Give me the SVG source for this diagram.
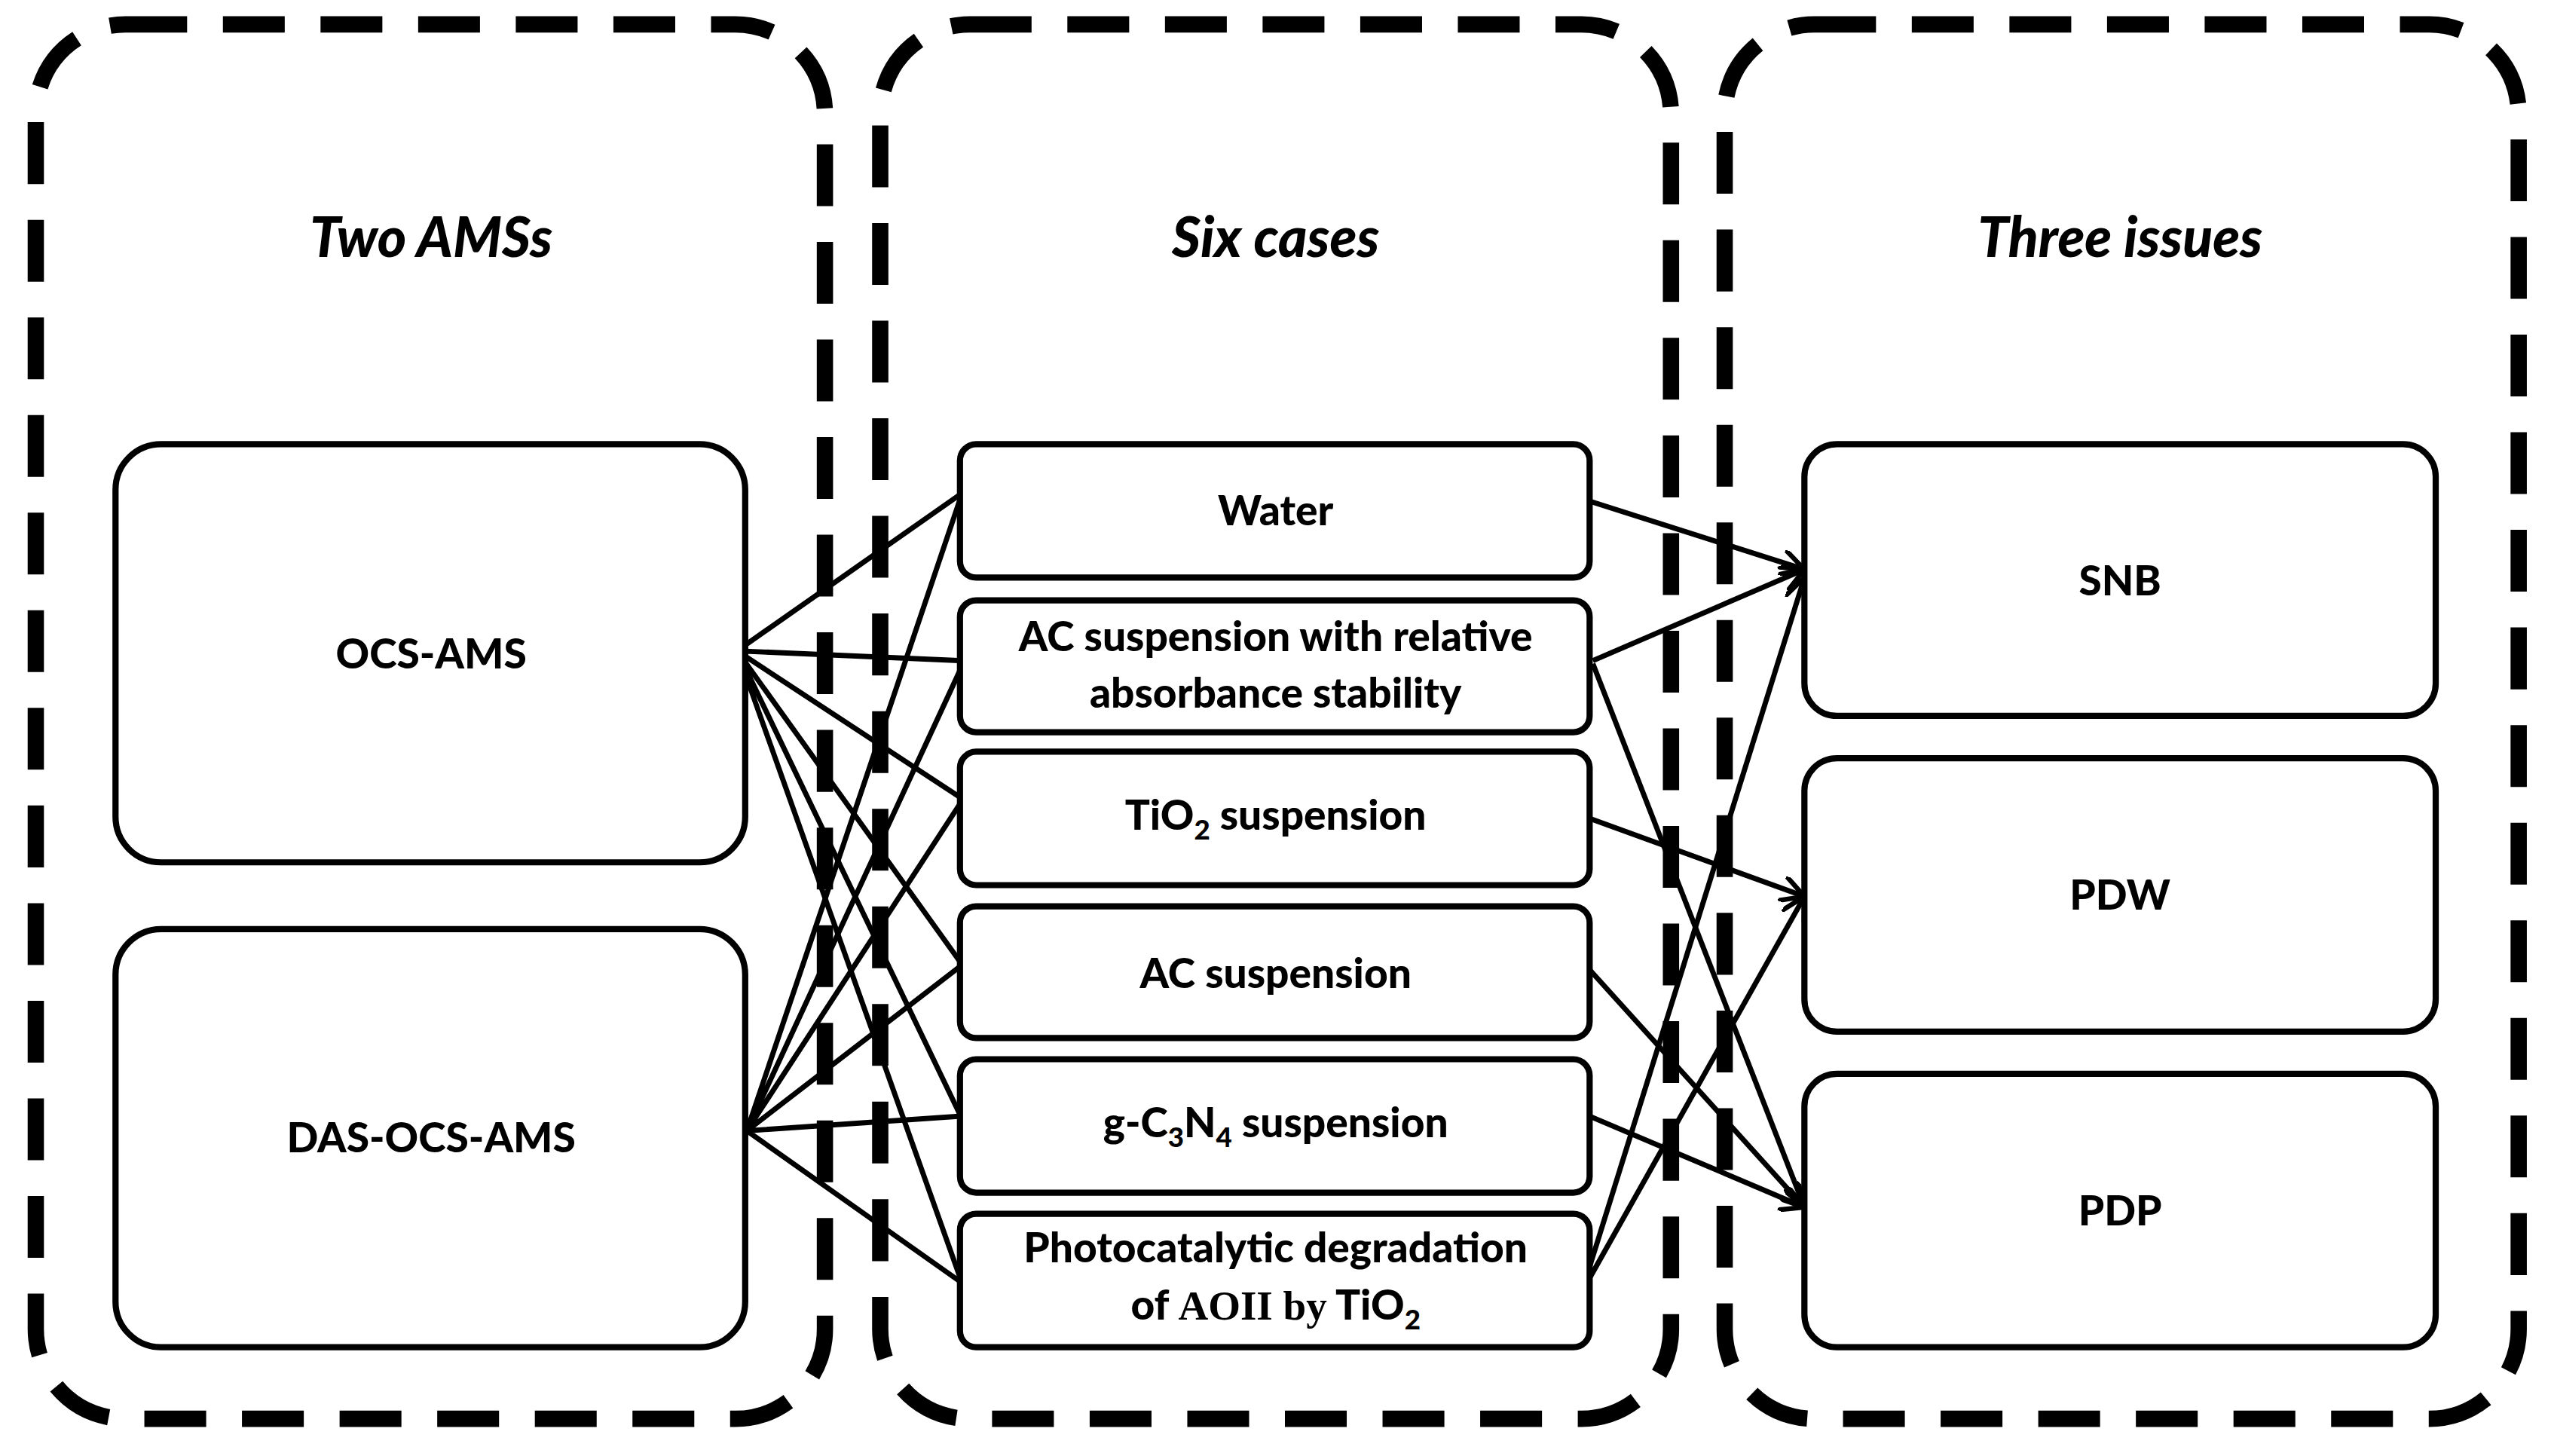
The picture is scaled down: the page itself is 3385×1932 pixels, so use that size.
<svg xmlns="http://www.w3.org/2000/svg" width="3385" height="1932" viewBox="0 0 3385 1932">
<style>
.c{fill:none;stroke:#000;stroke-width:10;stroke-dasharray:38 22}
.b{fill:#fff;stroke:#000;stroke-width:3.8}
.t{font-family:Lato,"Open Sans",sans-serif;font-weight:900;font-size:25.5px;text-anchor:middle}
.h{font-family:Lato,"Open Sans",sans-serif;font-weight:900;font-style:italic;font-size:34px;text-anchor:middle}
.l{stroke:#000;stroke-width:3.2;fill:none}
.a{stroke:#000;stroke-width:3.2;fill:none;marker-end:url(#m)}
</style>
<defs><marker id="m" viewBox="0 0 12 12" refX="11" refY="6" markerWidth="16" markerHeight="16" orient="auto" markerUnits="userSpaceOnUse"><path d="M0,0 L11,6 L0,12" fill="none" stroke="#000" stroke-width="2.2"/></marker></defs>
<rect width="3385" height="1932" fill="#fff"/>
<g transform="scale(2.159)">
<g id="containers">
<rect class="c" x="22" y="15" width="485" height="857" rx="55"/>
<rect class="c" x="541" y="15" width="486" height="857" rx="55"/>
<rect class="c" x="1060" y="15" width="488" height="857" rx="55"/>
<text class="h" x="265" y="158">Two AMSs</text>
<text class="h" x="784" y="158">Six  cases</text>
<text class="h" x="1303" y="158">Three issues</text>
</g>
<g id="connectors">
<path class="l" d="M453,400 L590,304 M453,400 L590,406 M453,400 L590,490 M453,400 L590,591 M453,400 L590,685 M453,400 L590,785"/>
<path class="l" d="M459,695 L590,307 M459,695 L590,412 M459,695 L590,494 M459,695 L590,594 M459,695 L590,686 M459,695 L592,789"/>
<path class="a" d="M977,308 L1109,350"/>
<path class="a" d="M979,406 L1109,350"/>
<path class="a" d="M979,408 L1109,742"/>
<path class="a" d="M977,503 L1109,551"/>
<path class="a" d="M977,596 L1109,742"/>
<path class="a" d="M977,686 L1109,742"/>
<path class="a" d="M975,785 L1109,355"/>
<path class="a" d="M975,789 L1109,551"/>
</g>
<g id="ocs"><rect class="b" x="71" y="273" width="387" height="257" rx="28"/><text class="t" x="265" y="411">OCS-AMS</text></g>
<g id="das"><rect class="b" x="71" y="571" width="387" height="257" rx="28"/><text class="t" x="265" y="708">DAS-OCS-AMS</text></g>
<g id="water"><rect class="b" x="590" y="273" width="387" height="82" rx="10"/><text class="t" x="784" y="323">Water</text></g>
<g id="acrel"><rect class="b" x="590" y="369" width="387" height="81" rx="10"/><text class="t" x="784" y="400">AC suspension with relative</text><text class="t" x="784" y="435">absorbance stability</text></g>
<g id="tio2"><rect class="b" x="590" y="462" width="387" height="82" rx="10"/><text class="t" x="784" y="510">TiO<tspan font-size="17" dy="6">2</tspan><tspan dy="-6"> suspension</tspan></text></g>
<g id="ac"><rect class="b" x="590" y="557" width="387" height="81" rx="10"/><text class="t" x="784" y="607">AC suspension</text></g>
<g id="gcn"><rect class="b" x="590" y="651" width="387" height="82" rx="10"/><text class="t" x="784" y="699">g-C<tspan font-size="17" dy="6">3</tspan><tspan dy="-6">N</tspan><tspan font-size="17" dy="6">4</tspan><tspan dy="-6"> suspension</tspan></text></g>
<g id="photo"><rect class="b" x="590" y="746" width="387" height="82" rx="10"/><text class="t" x="784" y="776">Photocatalytic degradation</text><text class="t" x="784" y="811">of <tspan font-family="'Liberation Serif',serif" font-weight="bold">AOII by</tspan> TiO<tspan font-size="17" dy="6">2</tspan></text></g>
<g id="snb"><rect class="b" x="1109" y="273" width="388" height="167" rx="20"/><text class="t" x="1303" y="366">SNB</text></g>
<g id="pdw"><rect class="b" x="1109" y="466" width="388" height="168" rx="20"/><text class="t" x="1303" y="559">PDW</text></g>
<g id="pdp"><rect class="b" x="1109" y="660" width="388" height="168" rx="20"/><text class="t" x="1303" y="753">PDP</text></g>
</g>
</svg>
